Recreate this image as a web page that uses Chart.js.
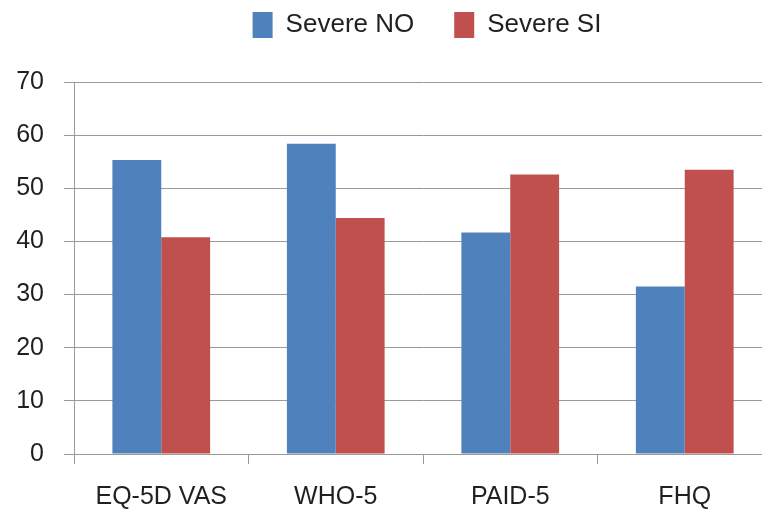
<!DOCTYPE html>
<html>
<head>
<meta charset="utf-8">
<script src="https://cdn.jsdelivr.net/npm/chart.js@4/dist/chart.umd.min.js"></script>
<style>
html,body{margin:0;padding:0;overflow:hidden;background:#fff;}
canvas{display:block;}
</style>
</head>
<body>
<canvas id="c" width="772" height="511"></canvas>
<script>
const categories = ["EQ-5D VAS", "WHO-5", "PAID-5", "FHQ"];
const severeNO = [55.3, 58.4, 41.7, 31.5];
const severeSI = [40.8, 44.4, 52.6, 53.5];
const seriesNames = ["Severe NO", "Severe SI"];
const yTicks = [0, 10, 20, 30, 40, 50, 60, 70];

const legendGap = {
  id: 'legendGap',
  beforeInit(chart) {
    const lg = chart.legend;
    const origFit = lg.fit;
    lg.fit = function () {
      origFit.bind(lg)();
      this.height += 6;
    };
    const origDraw = lg.draw;
    lg.draw = function (area) {
      const ctx = chart.ctx;
      ctx.save();
      ctx.translate(41, -28);
      origDraw.call(lg, area);
      ctx.restore();
    };
  }
};

new Chart(document.getElementById('c'), {
  type: 'bar',
  data: {
    labels: categories,
    datasets: [
      { label: seriesNames[0], data: severeNO, backgroundColor: '#4F81BD', borderWidth: 0 },
      { label: seriesNames[1], data: severeSI, backgroundColor: '#C0504D', borderWidth: 0 }
    ]
  },
  options: {
    responsive: false,
    animation: false,
    layout: { padding: { left: 0, right: 0, top: 0, bottom: 0 } },
    plugins: {
      tooltip: { enabled: false },
      legend: {
        position: 'top',
        align: 'center',
        labels: {
          boxWidth: 20,
          boxHeight: 26,
          padding: 40,
          color: '#231f20',
          font: { family: 'Liberation Sans, Arial, sans-serif', size: 26 },
          generateLabels(chart) {
            const items = Chart.defaults.plugins.legend.labels.generateLabels(chart);
            items.forEach(i => { i.lineWidth = 0; });
            return items;
          }
        }
      }
    },
    datasets: { bar: { categoryPercentage: 0.56, barPercentage: 1.0 } },
    scales: {
      x: {
        grid: { display: true, drawOnChartArea: false, drawTicks: true, tickLength: 10, color: '#9a9a9a', offset: true },
        border: { display: true, color: '#9a9a9a', width: 1 },
        ticks: { color: '#231f20', padding: 18, font: { family: 'Liberation Sans, Arial, sans-serif', size: 25 } },
        afterFit(scale) { scale.height = 57; }
      },
      y: {
        min: 0, max: 70,
        afterBuildTicks(scale) { scale.ticks = yTicks.map(v => ({ value: v })); },
        grid: { color: '#9a9a9a', lineWidth: 1, tickLength: 10, drawTicks: true },
        border: { display: true, color: '#9a9a9a', width: 1 },
        ticks: { color: '#231f20', padding: 20, font: { family: 'Liberation Sans, Arial, sans-serif', size: 25 } },
        afterFit(scale) { scale.width = 74; }
      }
    }
  },
  plugins: [legendGap]
});
</script>
</body>
</html>
